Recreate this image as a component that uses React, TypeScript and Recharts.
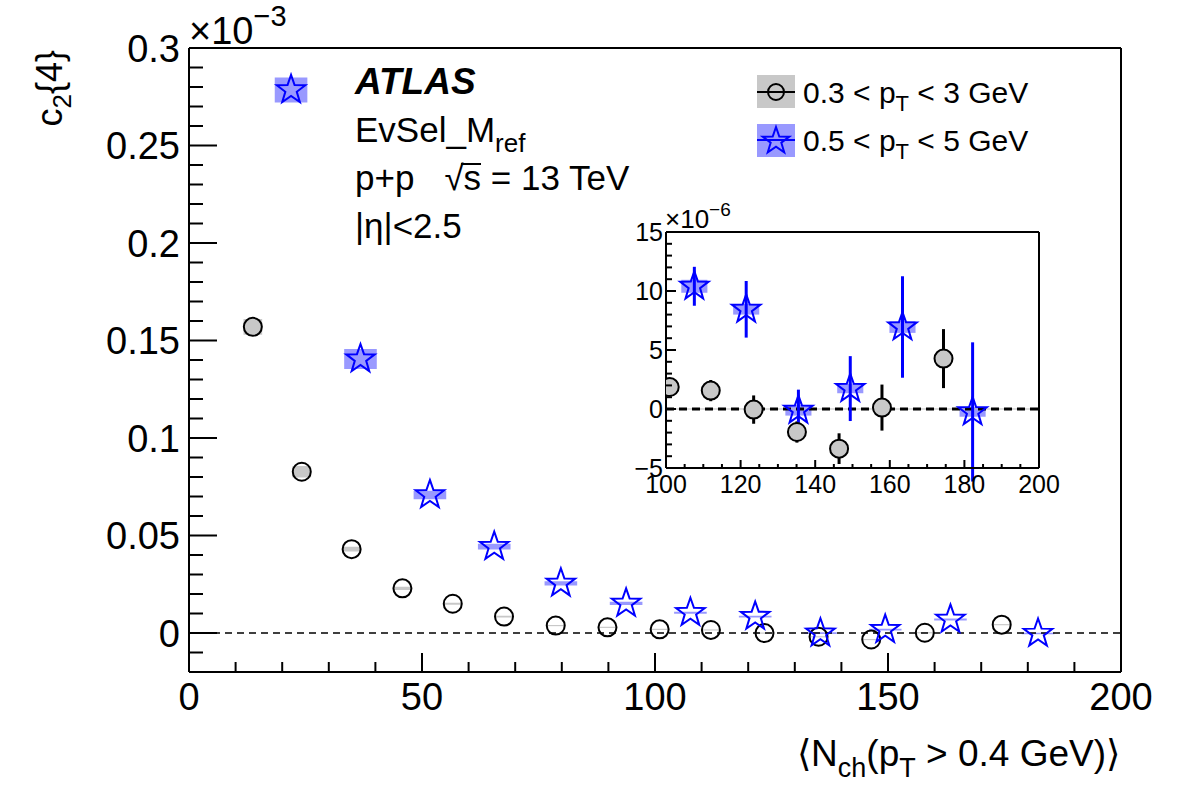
import { ComposedChart, Scatter, XAxis, YAxis, ReferenceArea, ReferenceLine, ErrorBar } from 'recharts';

const FONT = '"Liberation Sans", Arial, Helvetica, sans-serif';

// c2{4} values are stored in units of 1e-3 (main panel); the zoom panel shows them in 1e-6
// 0.3 < pT < 3 GeV
const nchLow = [13.7, 24.2, 34.9, 45.8, 56.6, 67.6, 78.7, 89.8, 101.0, 112.0, 123.5, 135.1, 146.4, 157.9, 174.4];
const c24Low = [0.157, 0.0827, 0.043, 0.0229, 0.015, 0.0084, 0.0038, 0.0029, 0.00186, 0.00156, -0.00005, -0.00195, -0.00336, 0.00012, 0.00427];
const statLow = [0.0004, 0.0004, 0.0004, 0.0004, 0.0005, 0.0005, 0.0005, 0.0006, 0.0007, 0.0009, 0.0012, 0.0009, 0.0013, 0.00195, 0.0025];
const sysLow = [0.004, 0.003, 0.0012, 0.0008, 0.0005, 0.0004, 0.0003, 0.0003, 0.0003, 0.0003, 0.0003, 0.0003, 0.0003, 0.0003, 0.0003];

// 0.5 < pT < 5 GeV
const nchHigh = [21.9, 36.8, 51.7, 65.5, 79.8, 93.8, 107.6, 121.5, 135.5, 149.4, 163.4, 182.2];
const c24High = [0.2785, 0.1405, 0.0708, 0.0443, 0.0255, 0.0152, 0.0104, 0.00845, -0.00011, 0.00173, 0.00695, -0.00025];
const statHigh = [0.0008, 0.0007, 0.0007, 0.0008, 0.0009, 0.0011, 0.00165, 0.0024, 0.00175, 0.00275, 0.0043, 0.0059];
const sysHigh = [0.0064, 0.0051, 0.0022, 0.0015, 0.0011, 0.0008, 0.00055, 0.00045, 0.00045, 0.0004, 0.0005, 0.0004];

const mainXTicks = Array.from({ length: 21 }, (_, i) => i * 10);
const mainYTicks = Array.from({ length: 33 }, (_, i) => (i - 2) / 100);
const insetXTicks = Array.from({ length: 21 }, (_, i) => 100 + i * 5);
const insetYTicks = Array.from({ length: 21 }, (_, i) => i - 5);

const GRAY = '#c8c8c8';
const BLUE = '#0000ff';
const BOX_LOW = 2; // half width of systematic boxes (Nch units)
const BOX_HIGH = 3.5;

type Pt = { x: number; y: number; err: number; sys: number };

function toPoints(xs: number[], ys: number[], stat: number[], sys: number[], scale = 1): Pt[] {
  return xs.map((x, i) => ({ x, y: ys[i] * scale, err: stat[i] * scale, sys: sys[i] * scale }));
}

const lowMain = toPoints(nchLow, c24Low, statLow, sysLow);
const highMain = toPoints(nchHigh, c24High, statHigh, sysHigh);
const lowInset = toPoints(nchLow, c24Low, statLow, sysLow, 1000).filter((p) => p.x >= 100);
const highInset = toPoints(nchHigh, c24High, statHigh, sysHigh, 1000).filter((p) => p.x >= 100);

function starPath(cx: number, cy: number, R: number) {
  const r = R * 0.4;
  let d = '';
  for (let i = 0; i < 10; i++) {
    const a = -Math.PI / 2 + (i * Math.PI) / 5;
    const rad = i % 2 === 0 ? R : r;
    d += (i ? 'L' : 'M') + (cx + rad * Math.cos(a)).toFixed(2) + ',' + (cy + rad * Math.sin(a)).toFixed(2);
  }
  return d + 'Z';
}

const OpenCircle = (p: any) => <circle cx={p.cx} cy={p.cy} r={9} fill="none" stroke="#000" strokeWidth={2} />;
const GrayCircle = (p: any) => <circle cx={p.cx} cy={p.cy} r={9} fill={GRAY} stroke="#000" strokeWidth={2} />;
const OpenStar = (p: any) => <path d={starPath(p.cx, p.cy, 15)} fill="none" stroke={BLUE} strokeWidth={2} />;

type Side = 'bottom' | 'top' | 'left' | 'right';
type TickOpts = {
  isMajor: (v: number) => boolean;
  major: number;
  minor: number;
  fontSize?: number;
  offset?: number;
  fmt?: (v: number) => string;
};

// ROOT-like ticks: drawn inward from the frame, labels only on major ticks
function frameTick(side: Side, o: TickOpts) {
  return (p: any) => {
    const v = p.payload.value;
    const big = o.isMajor(v);
    const len = big ? o.major : o.minor;
    const { x, y } = p;
    let line;
    if (side === 'bottom') line = <line x1={x} x2={x} y1={y} y2={y - len} />;
    else if (side === 'top') line = <line x1={x} x2={x} y1={y} y2={y + len} />;
    else if (side === 'left') line = <line x1={x} x2={x + len} y1={y} y2={y} />;
    else line = <line x1={x} x2={x - len} y1={y} y2={y} />;
    let label = null;
    if (big && o.fmt) {
      if (side === 'bottom')
        label = (
          <text x={x} y={y + (o.offset ?? 0)} textAnchor="middle" fontSize={o.fontSize} fontFamily={FONT} fill="#000" stroke="none">
            {o.fmt(v)}
          </text>
        );
      else if (side === 'left')
        label = (
          <text x={x - (o.offset ?? 0)} y={y} dy="0.36em" textAnchor="end" fontSize={o.fontSize} fontFamily={FONT} fill="#000" stroke="none">
            {o.fmt(v)}
          </text>
        );
    }
    return (
      <g stroke="#000" strokeWidth={2}>
        {line}
        {label}
      </g>
    );
  };
}

const fmtNum = (v: number) => {
  const s = String(Math.round(v * 100) / 100);
  return s.startsWith('-') ? '\u2212' + s.slice(1) : s;
};

const mainXMajor = (v: number) => v % 50 === 0;
const mainYMajor = (v: number) => Math.abs(Math.round(v * 100)) % 5 === 0;
const insetXMajor = (v: number) => v % 20 === 0;
const insetYMajor = (v: number) => Math.abs(v) % 5 === 0;

const axisLine = { stroke: '#000', strokeWidth: 2 };

function MainChart() {
  return (
    <ComposedChart width={1182} height={800} margin={{ top: 38, right: 51, bottom: 78, left: 109 }}>
      <XAxis
        type="number"
        dataKey="x"
        domain={[0, 200]}
        ticks={mainXTicks}
        interval={0}
        height={50}
        tickSize={0}
        tickMargin={0}
        tickLine={false}
        axisLine={axisLine}
        tick={frameTick('bottom', { isMajor: mainXMajor, major: 19, minor: 10, fontSize: 38, offset: 38, fmt: fmtNum })}
      />
      <XAxis
        xAxisId="top"
        orientation="top"
        type="number"
        domain={[0, 200]}
        ticks={mainXTicks}
        interval={0}
        height={10}
        tickSize={0}
        tickMargin={0}
        tickLine={false}
        axisLine={axisLine}
        tick={frameTick('top', { isMajor: mainXMajor, major: 18, minor: 9 })}
      />
      <YAxis
        type="number"
        dataKey="y"
        domain={[-0.02, 0.3]}
        ticks={mainYTicks}
        interval={0}
        width={80}
        tickSize={0}
        tickMargin={0}
        tickLine={false}
        axisLine={axisLine}
        allowDataOverflow
        tick={frameTick('left', { isMajor: mainYMajor, major: 28, minor: 14, fontSize: 38, offset: 9, fmt: fmtNum })}
      />
      <YAxis
        yAxisId="right"
        orientation="right"
        type="number"
        domain={[-0.02, 0.3]}
        ticks={mainYTicks}
        interval={0}
        width={10}
        tickSize={0}
        tickMargin={0}
        tickLine={false}
        axisLine={axisLine}
        tick={frameTick('right', { isMajor: mainYMajor, major: 28, minor: 14 })}
      />
      {lowMain.map((p, i) => (
        <ReferenceArea key={'lb' + i} x1={p.x - BOX_LOW} x2={p.x + BOX_LOW} y1={p.y - p.sys} y2={p.y + p.sys} fill={GRAY} fillOpacity={1} stroke="none" ifOverflow="hidden" />
      ))}
      {highMain.map((p, i) => (
        <ReferenceArea key={'hb' + i} x1={p.x - BOX_HIGH} x2={p.x + BOX_HIGH} y1={p.y - p.sys} y2={p.y + p.sys} fill={BLUE} fillOpacity={0.4} stroke="none" ifOverflow="hidden" />
      ))}
      <ReferenceLine y={0} stroke="#000" strokeWidth={1.5} strokeDasharray="7 5" />
      <Scatter data={lowMain} shape={OpenCircle} isAnimationActive={false} />
      <Scatter data={highMain} shape={OpenStar} isAnimationActive={false} />
    </ComposedChart>
  );
}

function InsetChart() {
  return (
    <ComposedChart width={500} height={320} margin={{ top: 38, right: 17, bottom: 22, left: 66 }}>
      <XAxis
        type="number"
        dataKey="x"
        domain={[100, 200]}
        ticks={insetXTicks}
        interval={0}
        height={20}
        tickSize={0}
        tickMargin={0}
        tickLine={false}
        axisLine={axisLine}
        allowDataOverflow
        tick={frameTick('bottom', { isMajor: insetXMajor, major: 8, minor: 4, fontSize: 25, offset: 25, fmt: fmtNum })}
      />
      <XAxis
        xAxisId="top"
        orientation="top"
        type="number"
        domain={[100, 200]}
        ticks={insetXTicks}
        interval={0}
        height={4}
        tickSize={0}
        tickMargin={0}
        tickLine={false}
        axisLine={axisLine}
        tick={frameTick('top', { isMajor: insetXMajor, major: 8, minor: 4 })}
      />
      <YAxis
        type="number"
        dataKey="y"
        domain={[-5, 15]}
        ticks={insetYTicks}
        interval={0}
        width={40}
        tickSize={0}
        tickMargin={0}
        tickLine={false}
        axisLine={axisLine}
        allowDataOverflow
        tick={frameTick('left', { isMajor: insetYMajor, major: 10, minor: 6, fontSize: 25, offset: 3, fmt: fmtNum })}
      />
      <YAxis
        yAxisId="right"
        orientation="right"
        type="number"
        domain={[-5, 15]}
        ticks={insetYTicks}
        interval={0}
        width={4}
        tickSize={0}
        tickMargin={0}
        tickLine={false}
        axisLine={axisLine}
        tick={frameTick('right', { isMajor: insetYMajor, major: 10, minor: 6 })}
      />
      {highInset.map((p, i) => (
        <ReferenceArea key={'hb' + i} x1={p.x - BOX_HIGH} x2={p.x + BOX_HIGH} y1={p.y - p.sys} y2={p.y + p.sys} fill={BLUE} fillOpacity={0.4} stroke="none" ifOverflow="hidden" />
      ))}
      <ReferenceLine y={0} stroke="#bbb" strokeWidth={1} />
      <ReferenceLine y={0} stroke="#000" strokeWidth={3} strokeDasharray="8 5" />
      <Scatter data={lowInset} shape={GrayCircle} isAnimationActive={false}>
        <ErrorBar dataKey="err" direction="y" width={0} stroke="#000" strokeWidth={3} />
      </Scatter>
      <Scatter data={highInset} shape={OpenStar} isAnimationActive={false}>
        <ErrorBar dataKey="err" direction="y" width={0} stroke={BLUE} strokeWidth={3} />
      </Scatter>
    </ComposedChart>
  );
}

function Annotations() {
  return (
    <svg width={1182} height={800} style={{ position: 'absolute', left: 0, top: 0, pointerEvents: 'none' }} fontFamily={FONT} fill="#000">
      {/* axis titles and exponents */}
      <text x={189} y={44} fontSize={38}>
        ×10<tspan fontSize={29} dy={-18}>−3</tspan>
      </text>
      <text transform="translate(62,50) rotate(-90)" textAnchor="end" fontSize={36}>
        c<tspan fontSize={26} dy={9}>2</tspan>
        <tspan dy={-9}>{'{4}'}</tspan>
      </text>
      <text x={1120} y={766} textAnchor="end" fontSize={37}>
        ⟨N<tspan fontSize={27} dy={11}>ch</tspan>
        <tspan dy={-11}>(p</tspan>
        <tspan fontSize={27} dy={11}>T</tspan>
        <tspan dy={-11}> &gt; 0.4 GeV)⟩</tspan>
      </text>
      <text x={665} y={228} fontSize={26}>
        ×10<tspan fontSize={19} dy={-12}>−6</tspan>
      </text>

      {/* labels */}
      <text x={355} y={94} fontSize={37} fontWeight="bold" fontStyle="italic">
        ATLAS
      </text>
      <text x={355} y={142} fontSize={35}>
        EvSel_M<tspan fontSize={26} dy={10}>ref</tspan>
      </text>
      <text x={355} y={190} fontSize={35}>
        p+p<tspan dx={30}>√s = 13 TeV</tspan>
      </text>
      {/* bar of the square root over "s" */}
      <line x1={461} x2={481} y1={164} y2={164} stroke="#000" strokeWidth={2} />
      <text x={355} y={238} fontSize={35}>
        |η|&lt;2.5
      </text>

      {/* legend */}
      <rect x={757} y={75} width={38} height={33} fill={GRAY} />
      <line x1={757} x2={795} y1={92} y2={92} stroke="#000" strokeWidth={2} />
      <circle cx={776} cy={92} r={8} fill="none" stroke="#000" strokeWidth={2} />
      <text x={803} y={103} fontSize={30}>
        0.3 &lt; p<tspan fontSize={22} dy={8}>T</tspan>
        <tspan dy={-8}> &lt; 3 GeV</tspan>
      </text>
      <rect x={757} y={124} width={38} height={33} fill={BLUE} fillOpacity={0.4} />
      <line x1={757} x2={795} y1={140} y2={140} stroke={BLUE} strokeWidth={2} />
      <path d={starPath(776, 141, 14)} fill="none" stroke={BLUE} strokeWidth={2} />
      <text x={803} y={151} fontSize={30}>
        0.5 &lt; p<tspan fontSize={22} dy={8}>T</tspan>
        <tspan dy={-8}> &lt; 5 GeV</tspan>
      </text>
    </svg>
  );
}

export default function App() {
  return (
    <div style={{ position: 'absolute', left: 0, top: 0, width: 1182, height: 800, background: '#fff' }}>
      <div style={{ position: 'absolute', left: 0, top: 0 }}>
        <MainChart />
      </div>
      <div style={{ position: 'absolute', left: 560, top: 190 }}>
        <InsetChart />
      </div>
      <Annotations />
    </div>
  );
}
